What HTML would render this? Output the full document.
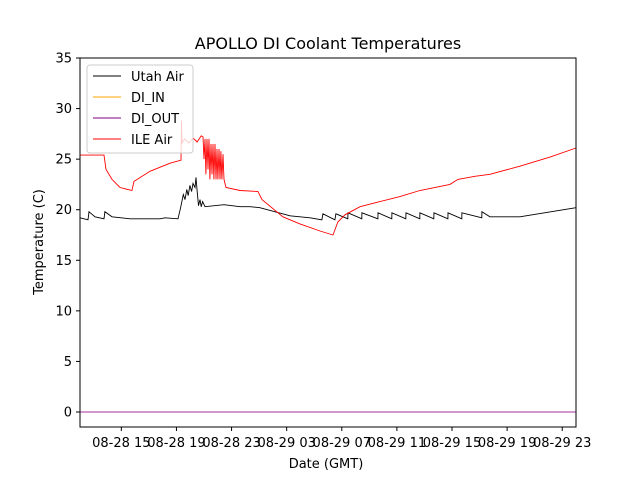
<!DOCTYPE html>
<html><head><meta charset="utf-8"><style>
body{margin:0;background:#fff;}
text{font-family:"DejaVu Sans","Liberation Sans",sans-serif;fill:#000;}
</style></head><body>
<svg id="chart" width="640" height="480" xmlns="http://www.w3.org/2000/svg">
<rect width="640" height="480" fill="#fff"/>
<text x="328" y="49" font-size="16" text-anchor="middle">APOLLO DI Coolant Temperatures</text>
<g id="plot"></g>
<rect x="80" y="58" width="496" height="369" fill="none" stroke="#000" stroke-width="1"/>
<text x="326" y="468" font-size="13" text-anchor="middle">Date (GMT)</text>
<text transform="translate(43,242) rotate(-90)" font-size="13" text-anchor="middle">Temperature (C)</text>
<g id="axes"></g>
<g>
<rect x="87" y="65" width="106" height="88" rx="3" fill="#fff" fill-opacity="0.8" stroke="#ccc"/>
<line x1="93" y1="76" x2="121" y2="76" stroke="#000"/><text x="131" y="81" font-size="13">Utah Air</text>
<line x1="93" y1="97" x2="121" y2="97" stroke="#ffa500"/><text x="131" y="102" font-size="13">DI_IN</text>
<line x1="93" y1="118" x2="121" y2="118" stroke="#800080"/><text x="131" y="123" font-size="13">DI_OUT</text>
<line x1="93" y1="139" x2="121" y2="139" stroke="#ff0000"/><text x="131" y="144" font-size="13">ILE Air</text>
</g>
</svg>
<script>
const NS="http://www.w3.org/2000/svg";
const xTickHours=[15,19,23,27,31,35,39,43,47];
const xTickLabels=["08-28 15","08-28 19","08-28 23","08-29 03","08-29 07","08-29 11","08-29 15","08-29 19","08-29 23"];
const yTicks=[0,5,10,15,20,25,30,35];
const ileT=[12,13.74,13.89,14.32,14.9,15.77,15.92,17.08,18.53,19.33,19.37,19.4,19.6,19.9,20.2,20.5,20.8,20.93,21.0,21.07,21.14,21.22,21.29,21.36,21.43,21.51,21.58,21.65,21.72,21.8,21.87,21.94,22.01,22.09,22.16,22.23,22.3,22.38,22.45,22.6,23.61,24.92,25.21,26.73,27.97,29.42,30.36,30.72,31.23,32.32,33.77,35.22,36.67,38.85,39.43,40.66,41.75,43.93,46.11,48];
const ileV=[25.4,25.4,24,23,22.2,21.9,22.8,23.8,24.6,24.9,28.8,26.6,27.0,26.6,27.1,26.7,27.3,27.2,25,27,23.5,27,24,27,23,26.5,23.5,26.5,23,26.5,23,26,23,26,23,25.8,23,25.5,23,22.2,21.9,21.8,21,19.3,18.6,17.9,17.5,18.8,19.5,20.3,20.8,21.3,21.9,22.5,23,23.3,23.5,24.3,25.2,26.1];
const utahT=[12,12.58,12.65,13.09,13.74,13.81,14.32,15.63,17.81,18.17,19.11,19.3,19.5,19.62,19.75,19.85,19.98,20.1,20.2,20.35,20.42,20.49,20.6,20.71,20.8,20.9,21.07,22.45,23.61,24.34,25.06,27.24,28.69,29.56,29.63,30.5,30.57,31.44,31.45,32.45,32.46,33.62,33.63,34.63,34.64,35.65,35.66,36.66,36.67,37.68,37.69,38.7,38.71,39.71,39.72,41.16,41.17,41.75,43.93,48];
const utahV=[19.2,19.0,19.8,19.3,19.1,19.8,19.3,19.1,19.1,19.2,19.1,20.2,21.5,21.0,22.0,21.4,22.4,21.8,22.6,22.2,23.2,22.0,20.4,21.0,20.3,20.8,20.3,20.5,20.3,20.3,20.2,19.4,19.2,19.0,19.6,19.0,19.6,19.1,19.7,19.1,19.7,19.1,19.7,19.1,19.7,19.1,19.7,19.1,19.7,19.1,19.7,19.1,19.7,19.1,19.7,19.2,19.8,19.3,19.3,20.2];
const diInT=[12,48];
const diInV=[0,0];
const diOutT=[12,48];
const diOutV=[0,0];
const xs=h=>80+(h-12)*13.778;
const ys=v=>412-v*10.114;
const plot=document.getElementById('plot'), axes=document.getElementById('axes');
function line(T,V,color,name){
  const p=document.createElementNS(NS,'polyline');
  
  
  p.setAttribute('points',T.map((t,i)=>xs(t).toFixed(1)+','+ys(V[i]).toFixed(1)).join(' '));
  p.setAttribute('fill','none');p.setAttribute('stroke',color);p.setAttribute('stroke-width','0.9');
  plot.appendChild(p);
}
line(utahT,utahV,'#000','utah-air-line');
line(ileT,ileV,'#ff0000','ile-air-line');
line(diInT,diInV,'#ffa500','di-in-line');
line(diOutT,diOutV,'#a0309a','di-out-line');
xTickHours.forEach((h,i)=>{
  const x=xs(h);
  const l=document.createElementNS(NS,'line');
  
  
  l.setAttribute('x1',x);l.setAttribute('x2',x);l.setAttribute('y1',427);l.setAttribute('y2',431);l.setAttribute('stroke','#000');
  axes.appendChild(l);
  const t=document.createElementNS(NS,'text');
  
  
  t.setAttribute('x',x);t.setAttribute('y',447);t.setAttribute('font-size','13');t.setAttribute('text-anchor','middle');
  t.textContent=xTickLabels[i];axes.appendChild(t);
});
yTicks.forEach(v=>{
  const y=ys(v);
  const l=document.createElementNS(NS,'line');
  
  
  l.setAttribute('x1',76);l.setAttribute('x2',80);l.setAttribute('y1',y);l.setAttribute('y2',y);l.setAttribute('stroke','#000');
  axes.appendChild(l);
  const t=document.createElementNS(NS,'text');
  
  
  t.setAttribute('x',72);t.setAttribute('y',y+4.5);t.setAttribute('font-size','13');t.setAttribute('text-anchor','end');
  t.textContent=v;axes.appendChild(t);
});
</script>
</body></html>
